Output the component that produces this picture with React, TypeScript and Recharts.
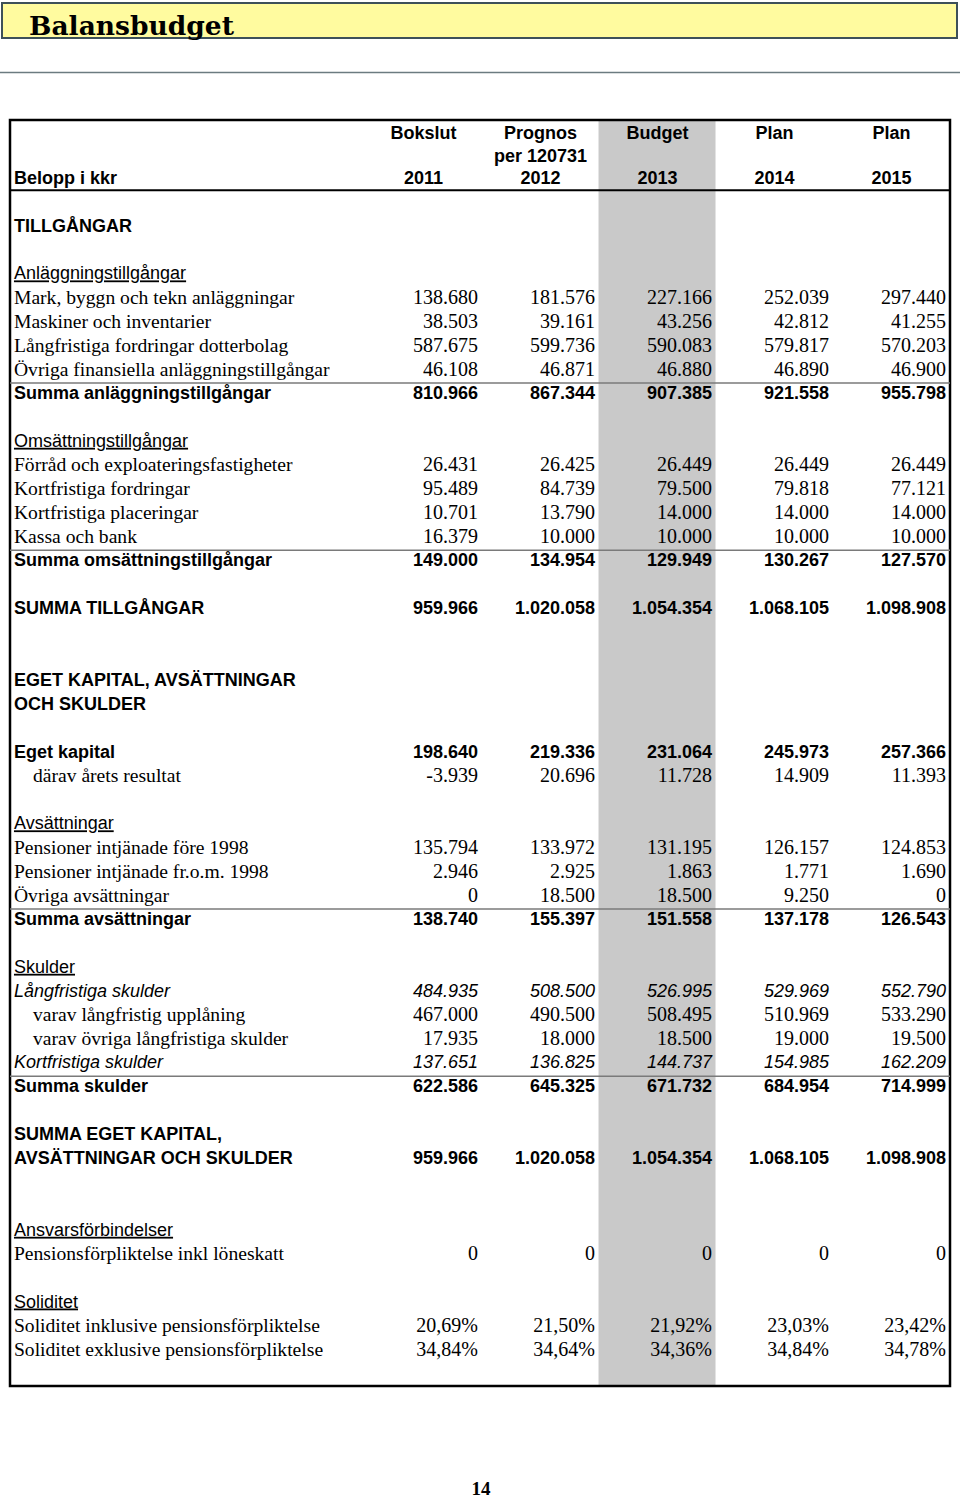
import React from "react";
import { ScatterChart, Scatter, XAxis, YAxis, ReferenceArea, ReferenceLine, Text, Surface } from "recharts";

// row labels of the table (blank strings = empty spacer rows)
const rowLabels = [
  "TILLGÅNGAR", "", "Anläggningstillgångar",
  "Mark, byggn och tekn anläggningar", "Maskiner och inventarier",
  "Långfristiga fordringar dotterbolag", "Övriga finansiella anläggningstillgångar",
  "Summa anläggningstillgångar", "", "Omsättningstillgångar",
  "Förråd och exploateringsfastigheter", "Kortfristiga fordringar",
  "Kortfristiga placeringar", "Kassa och bank", "Summa omsättningstillgångar", "",
  "SUMMA TILLGÅNGAR", "", "", "EGET KAPITAL, AVSÄTTNINGAR", "OCH SKULDER", "",
  "Eget kapital", "därav årets resultat", "", "Avsättningar",
  "Pensioner intjänade före 1998", "Pensioner intjänade fr.o.m. 1998",
  "Övriga avsättningar", "Summa avsättningar", "", "Skulder",
  "Långfristiga skulder", "varav långfristig upplåning", "varav övriga långfristiga skulder",
  "Kortfristiga skulder", "Summa skulder", "", "SUMMA EGET KAPITAL,",
  "AVSÄTTNINGAR OCH SKULDER", "", "", "Ansvarsförbindelser",
  "Pensionsförpliktelse inkl löneskatt", "", "Soliditet",
  "Soliditet inklusive pensionsförpliktelse", "Soliditet exklusive pensionsförpliktelse",
];

const rowKinds = [
  "bold", "", "sub", "serif", "serif", "serif", "serif", "bold", "", "sub",
  "serif", "serif", "serif", "serif", "bold", "", "bold", "", "", "bold", "bold", "",
  "bold", "indent", "", "sub", "serif", "serif", "serif", "bold", "", "sub",
  "italic", "indent", "indent", "italic", "bold", "", "bold", "bold", "", "", "sub",
  "serif", "", "sub", "pct", "pct",
];

// rows that carry numbers
const valueRows = [3, 4, 5, 6, 7, 10, 11, 12, 13, 14, 16, 22, 23, 26, 27, 28, 29, 32, 33, 34, 35, 36, 39, 43, 46, 47];

const bokslut2011 = [138680, 38503, 587675, 46108, 810966, 26431, 95489, 10701, 16379, 149000, 959966, 198640, -3939, 135794, 2946, 0, 138740, 484935, 467000, 17935, 137651, 622586, 959966, 0, 20.69, 34.84];
const prognos2012 = [181576, 39161, 599736, 46871, 867344, 26425, 84739, 13790, 10000, 134954, 1020058, 219336, 20696, 133972, 2925, 18500, 155397, 508500, 490500, 18000, 136825, 645325, 1020058, 0, 21.5, 34.64];
const budget2013 = [227166, 43256, 590083, 46880, 907385, 26449, 79500, 14000, 10000, 129949, 1054354, 231064, 11728, 131195, 1863, 18500, 151558, 526995, 508495, 18500, 144737, 671732, 1054354, 0, 21.92, 34.36];
const plan2014 = [252039, 42812, 579817, 46890, 921558, 26449, 79818, 14000, 10000, 130267, 1068105, 245973, 14909, 126157, 1771, 9250, 137178, 529969, 510969, 19000, 154985, 684954, 1068105, 0, 23.03, 34.84];
const plan2015 = [297440, 41255, 570203, 46900, 955798, 26449, 77121, 14000, 10000, 127570, 1098908, 257366, 11393, 124853, 1690, 0, 126543, 552790, 533290, 19500, 162209, 714999, 1098908, 0, 23.42, 34.78];

const headTop = ["Bokslut", "Prognos", "Budget", "Plan", "Plan"];
const headMid = ["", "per 120731", "", "", ""];
const years = ["2011", "2012", "2013", "2014", "2015"];

const sumRows = [7, 14, 29, 36];

const columns = [bokslut2011, prognos2012, budget2013, plan2014, plan2015];

const SANS = "'Liberation Sans', Arial, sans-serif";
const SERIF = "'Liberation Serif', 'Times New Roman', serif";

// axis domains: x in column units (1..5 = right edge of each value column), y in row slots
const X_MIN = -3;
const X_MAX = 5.034;
const Y_MIN = -4.4;
const Y_MAX = 48.55;
const LABEL_X = -2.966;

const fontFor = (kind: string, isLabel = false): React.CSSProperties => {
  if (kind === "bold") return { fontFamily: SANS, fontSize: 18, fontWeight: 700 };
  if (kind === "sub") return { fontFamily: SANS, fontSize: 18, textDecoration: "underline" };
  if (kind === "italic") return { fontFamily: SANS, fontSize: 18, fontStyle: "italic" };
  return { fontFamily: SERIF, fontSize: isLabel ? 19.6 : 20 };
};

const fmt = (n: number, kind: string) => {
  if (kind === "pct") return n.toFixed(2).replace(".", ",") + "%";
  const s = Math.abs(n).toString().replace(/\B(?=(\d{3})+(?!\d))/g, ".");
  return n < 0 ? "-" + s : s;
};

const labelData = [
  ...rowLabels.map((l, i) => ({ x: LABEL_X, y: i, l, kind: rowKinds[i] })).filter((d) => d.l),
  { x: LABEL_X, y: -1.97, l: "Belopp i kkr", kind: "bold" },
];

const headData = years.flatMap((yr, c) => [
  { x: c + 1 - 0.466, y: -3.89, l: headTop[c] },
  { x: c + 1 - 0.466, y: -2.93, l: headMid[c] },
  { x: c + 1 - 0.466, y: -1.97, l: yr },
]).filter((d) => d.l);

const colData = columns.map((vals, c) =>
  valueRows.map((r, i) => ({ x: c + 1, y: r, v: vals[i], kind: rowKinds[r] }))
);

const LabelShape = (p: any) => {
  const d = p.payload;
  const dx = d.kind === "indent" ? 19 : 0;
  return (
    <Text x={p.cx + dx} y={p.cy} textAnchor="start" verticalAnchor="middle" fill="#000" style={fontFor(d.kind, true)}>
      {d.l}
    </Text>
  );
};

const HeadShape = (p: any) => (
  <Text x={p.cx} y={p.cy} textAnchor="middle" verticalAnchor="middle" fill="#000" style={fontFor("bold")}>
    {p.payload.l}
  </Text>
);

const ValueShape = (p: any) => {
  const d = p.payload;
  return (
    <Text x={p.cx} y={p.cy} textAnchor="end" verticalAnchor="middle" fill="#000" style={fontFor(d.kind)}>
      {fmt(d.v, d.kind)}
    </Text>
  );
};

export default function App() {
  return (
    <div style={{ position: "absolute", left: 0, top: 0, width: 960, height: 1499, background: "#fff" }}>
      <ScatterChart width={960} height={1499} margin={{ top: 120, right: 10, bottom: 113, left: 10 }}>
        <XAxis type="number" dataKey="x" domain={[X_MIN, X_MAX]} allowDataOverflow hide />
        <YAxis type="number" dataKey="y" domain={[Y_MIN, Y_MAX]} allowDataOverflow reversed hide />
        <ReferenceArea x1={2.03} x2={3.03} y1={Y_MIN} y2={Y_MAX} fill="#C9C9C9" fillOpacity={1} stroke="none" />
        <ReferenceLine y={-1.46} stroke="#000" strokeWidth={2} />
        {sumRows.map((r) => (
          <ReferenceLine key={r} y={r - 0.4} stroke="#7a7a7a" strokeWidth={1.5} />
        ))}
        <ReferenceArea x1={X_MIN} x2={X_MAX} y1={Y_MIN} y2={Y_MAX} fill="none" stroke="#000" strokeWidth={2.5} />
        <Scatter data={labelData} shape={LabelShape} isAnimationActive={false} />
        <Scatter data={headData} shape={HeadShape} isAnimationActive={false} />
        {colData.map((d, c) => (
          <Scatter key={c} data={d} shape={ValueShape} isAnimationActive={false} />
        ))}
      </ScatterChart>
      <div style={{ position: "absolute", left: 0, top: 0, pointerEvents: "none" }}>
        <Surface width={960} height={1499}>
          <rect x={2} y={3} width={955} height={35} fill="#FFFB9F" stroke="#3d5059" strokeWidth={2} />
          <Text x={29} y={35} textAnchor="start" verticalAnchor="end" fill="#000"
            style={{ fontFamily: "'DejaVu Serif', serif", fontSize: 26.5, fontWeight: 700 }}>
            Balansbudget
          </Text>
          <line x1={0} x2={960} y1={72.5} y2={72.5} stroke="#6b7b80" strokeWidth={1.5} />
          <Text x={481} y={1488} textAnchor="middle" verticalAnchor="middle" fill="#000"
            style={{ fontFamily: SERIF, fontSize: 19, fontWeight: 700 }}>
            14
          </Text>
        </Surface>
      </div>
    </div>
  );
}
